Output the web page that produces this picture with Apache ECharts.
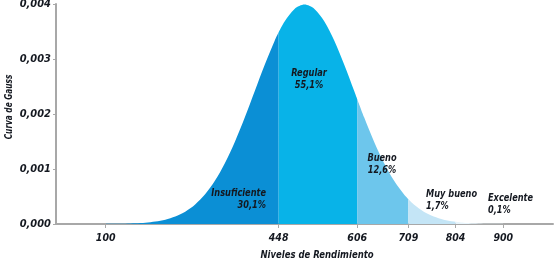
<!DOCTYPE html>
<html><head><meta charset="utf-8">
<script src="https://cdn.jsdelivr.net/npm/echarts@6/dist/echarts.min.js"></script>
<style>html,body{margin:0;padding:0;background:#fff}#c{width:558px;height:265px}</style>
</head><body><div id="c"></div>
<script>
// Curve samples (x = nivel, y = densidad)
const xs = [100,120,140,160,180,200,220,240,260,280,300,320,340,360,380,400,420,440,448,460,480,500,520,540,560,580,600,606,620,640,660,680,700,709,720,740,760,780,800,804,820,840,860,880,900];
const ys = [0.0000013,0.0000029,0.0000061,0.0000123,0.0000238,0.0000443,0.0000792,0.0001358,0.0002239,0.0003547,0.0005399,0.0007895,0.0011092,0.0014973,0.0019419,0.0024197,0.0028969,0.0033322,0.0034849,0.0036827,0.0039104,0.0039894,0.0039104,0.0036827,0.0033322,0.0028969,0.0024197,0.0022746,0.0019419,0.0014973,0.0011092,0.0007895,0.0005399,0.0004491,0.0003547,0.0002239,0.0001358,0.0000792,0.0000443,0.0000393,0.0000238,0.0000123,0.0000061,0.0000029,0.0000013];
const cuts = [100,448,606,709,804,900];
const tickLabels = [100,448,606,709,804,900];
const levelNames = ['Insuficiente','Regular','Bueno','Muy bueno','Excelente'];
const levelPct = ['30,1%','55,1%','12,6%','1,7%','0,1%'];
const levelColors = ['#0b8fd5','#08b3e8','#6dc6ec','#c4e5f6','#e8f5fc'];

const FONT = '"Liberation Sans Narrow","DejaVu Sans Condensed","Arial Narrow",sans-serif';
const TXT = '#141820';
const series = [];
for (let i = 0; i < 5; i++) {
  const pts = [];
  xs.forEach((x, k) => { if (x >= cuts[i] && x <= cuts[i+1]) pts.push([x, ys[k]]); });
  series.push({
    type: 'line', name: levelNames[i], data: pts, smooth: 0.3, symbol: 'none',
    lineStyle: { width: 0 }, areaStyle: { color: levelColors[i], opacity: 1 }, z: 2
  });
}
const lbl = (x, y, text, align, extra) => Object.assign({ type: 'text', x: x, y: y, z: 100, zlevel: 1, scaleX: 0.87,
  style: { text: text, fill: TXT, font: 'italic bold 10.5px ' + FONT, align: align || 'left', verticalAlign: 'top', lineHeight: 11.5 } }, extra || {});
const chart = echarts.init(document.getElementById('c'), null, { renderer: 'canvas' });
chart.setOption({
  animation: false,
  grid: { left: 56, right: 5, top: 4, bottom: 41, containLabel: false, outerBoundsMode: 'none' },
  xAxis: {
    type: 'value', min: 0, max: 1000,
    axisLine: { show: true, lineStyle: { color: '#a8a8a8', width: 2 } },
    splitLine: { show: false },
    axisTick: { show: true, customValues: tickLabels, length: 4, lineStyle: { color: '#a8a8a8', width: 1 } },
    axisLabel: { customValues: tickLabels, margin: 9, color: TXT, fontStyle: 'italic', fontWeight: 'bold', fontSize: 10.5, fontFamily: FONT }
  },
  yAxis: {
    type: 'value', min: 0, max: 0.004, interval: 0.001,
    axisLine: { show: true, lineStyle: { color: '#a8a8a8', width: 2 } },
    splitLine: { show: false },
    axisTick: { show: true, length: 3, lineStyle: { color: '#a8a8a8' } },
    axisLabel: { margin: 5, color: TXT, fontStyle: 'italic', fontWeight: 'bold', fontSize: 11, fontFamily: FONT,
      formatter: v => v.toFixed(3).replace('.', ',') }
  },
  series: series,
  graphic: [
    lbl(9, 107, 'Curva de Gauss', 'center', { rotation: Math.PI / 2, scaleX: 0.82,
      style: { text: 'Curva de Gauss', fill: TXT, font: 'italic bold 10px ' + FONT, align: 'center', verticalAlign: 'middle' } }),
    lbl(317, 250, 'Niveles de Rendimiento', 'center', { scaleX: 0.9 }),
    lbl(266, 188, levelNames[0] + '\n' + levelPct[0], 'right'),
    lbl(309, 68, levelNames[1] + '\n' + levelPct[1], 'center'),
    lbl(382, 153, levelNames[2] + '\n' + levelPct[2], 'center'),
    lbl(426, 189, levelNames[3] + '\n' + levelPct[3]),
    lbl(488, 193, levelNames[4] + '\n' + levelPct[4])
  ]
});
</script></body></html>
